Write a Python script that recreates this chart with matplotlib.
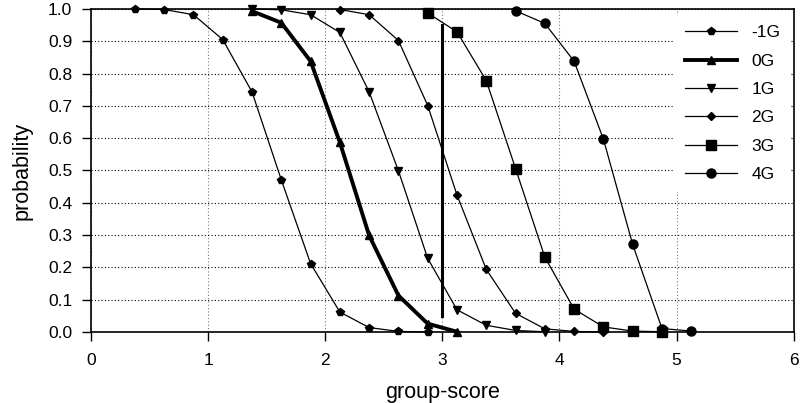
import matplotlib
matplotlib.use("Agg")
import matplotlib.pyplot as plt

plt.rcParams['font.family'] = ['Liberation Sans', 'DejaVu Sans']

# group scores are sampled every 0.25, offset by 0.125
x_m1 = [0.375, 0.625, 0.875, 1.125, 1.375, 1.625, 1.875, 2.125, 2.375, 2.625, 2.875]
p_m1 = [1.000, 0.998, 0.982, 0.905, 0.743, 0.471, 0.212, 0.062, 0.014, 0.002, 0.000]

x_0 = [1.375, 1.625, 1.875, 2.125, 2.375, 2.625, 2.875, 3.125]
p_0 = [0.993, 0.957, 0.838, 0.587, 0.299, 0.113, 0.026, 0.001]

x_1 = [1.375, 1.625, 1.875, 2.125, 2.375, 2.625, 2.875, 3.125, 3.375, 3.625, 3.875]
p_1 = [1.000, 0.997, 0.982, 0.927, 0.743, 0.499, 0.228, 0.069, 0.021, 0.005, 0.001]

x_2 = [2.125, 2.375, 2.625, 2.875, 3.125, 3.375, 3.625, 3.875, 4.125, 4.375]
p_2 = [0.998, 0.982, 0.902, 0.701, 0.424, 0.194, 0.058, 0.010, 0.002, 0.000]

x_3 = [2.875, 3.125, 3.375, 3.625, 3.875, 4.125, 4.375, 4.625, 4.875]
p_3 = [0.987, 0.929, 0.778, 0.506, 0.232, 0.071, 0.016, 0.003, 0.001]

x_4 = [3.625, 3.875, 4.125, 4.375, 4.625, 4.875, 5.125]
p_4 = [0.994, 0.955, 0.838, 0.597, 0.271, 0.011, 0.003]

labels = ['-1G', '0G', '1G', '2G', '3G', '4G']

# threshold marker at group-score 3
thr_x = 3.0
thr_y = [0.05, 0.95]

fig = plt.figure(figsize=(8.05, 4.03), dpi=100)
ax = fig.add_axes([0.113, 0.176, 0.873, 0.802])

series = [
    (x_m1, p_m1, 'p', 6.0, 0.9),
    (x_0, p_0, '^', 5.5, 2.8),
    (x_1, p_1, 'v', 5.5, 0.9),
    (x_2, p_2, 'D', 4.2, 0.9),
    (x_3, p_3, 's', 6.5, 0.9),
    (x_4, p_4, 'o', 6.5, 0.9),
]
for (xs, ys, mk, ms, lw), lab in zip(series, labels):
    ax.plot(xs, ys, color='black', marker=mk, markersize=ms, linewidth=lw,
            label=lab, clip_on=False, zorder=3)

ax.plot([thr_x, thr_x], thr_y, color='black', linewidth=2.2, zorder=3)

ax.set_xlim(0, 6)
ax.set_ylim(0, 1.0)
ax.set_xticks(range(0, 7))
ax.set_yticks([i / 10 for i in range(11)])
ax.set_yticklabels([f"{i / 10:.1f}" for i in range(11)])

ax.yaxis.grid(True, color='black', linestyle=(0, (1, 2)), linewidth=0.8)
ax.xaxis.grid(True, color='#777777', linestyle=(0, (1, 2)), linewidth=0.8)
ax.set_axisbelow(True)

for s in ax.spines.values():
    s.set_linewidth(1.2)
    s.set_color('black')

ax.tick_params(direction='out', length=6.5, width=1.0, labelsize=12.5,
               colors='black')
ax.tick_params(axis='y', pad=7)
ax.tick_params(axis='x', pad=8.5)

ax.set_xlabel('group-score', fontsize=15.5, labelpad=10)
ax.set_ylabel('probability', fontsize=15.5, labelpad=11)

leg = ax.legend(loc='upper right', bbox_to_anchor=(0.996, 0.982), frameon=True,
                fontsize=12.5, handlelength=3.0, labelspacing=0.76,
                handletextpad=0.85, borderpad=0.6, borderaxespad=0.0)
leg.get_frame().set_facecolor('white')
leg.get_frame().set_edgecolor('none')
leg.get_frame().set_alpha(1.0)

fig.savefig('out.png', dpi=100)
